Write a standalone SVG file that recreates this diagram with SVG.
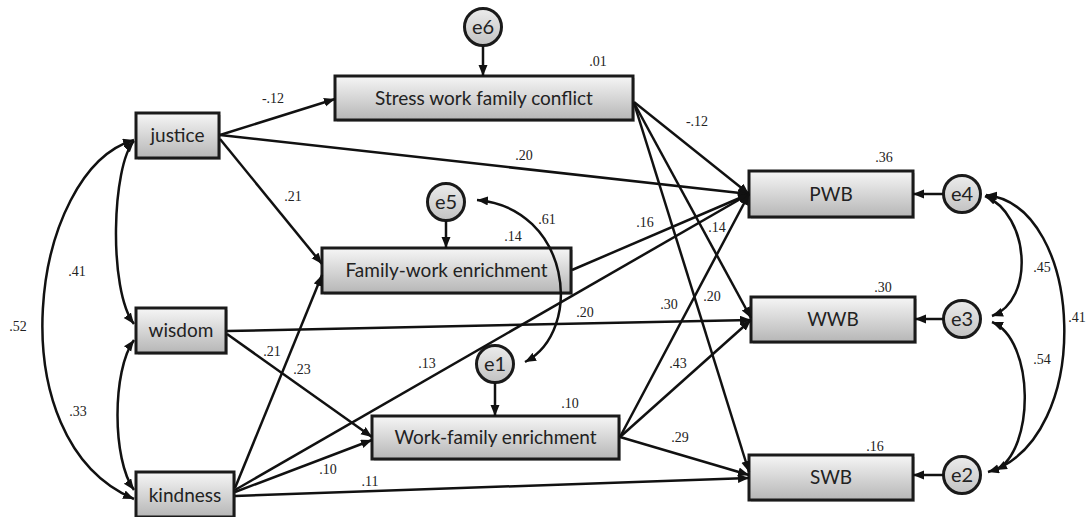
<svg xmlns="http://www.w3.org/2000/svg" width="1086" height="517" viewBox="0 0 1086 517">
<defs>
<linearGradient id="gBox" x1="0" y1="0" x2="0" y2="1">
<stop offset="0" stop-color="#f6f6f6"/>
<stop offset="1" stop-color="#b6b6b6"/>
</linearGradient>
<linearGradient id="gCirc" x1="0" y1="0" x2="0" y2="1">
<stop offset="0" stop-color="#ececec"/>
<stop offset="1" stop-color="#c2c2c2"/>
</linearGradient>
<marker id="ah" markerUnits="userSpaceOnUse" markerWidth="12" markerHeight="10" refX="11" refY="4.5" orient="auto-start-reverse">
<path d="M0,0 L11,4.5 L0,9 z" fill="#111"/>
</marker>
</defs>
<style>
.box{fill:url(#gBox);stroke:#1a1a1a;stroke-width:3}
.shadow{fill:#9a9a9a;opacity:0.45}
.circ{fill:url(#gCirc);stroke:#1a1a1a;stroke-width:3}
.lbl{font-family:Lato,"Open Sans",sans-serif;font-size:19px;fill:#222;text-anchor:middle}
.elbl{font-family:Lato,"Open Sans",sans-serif;font-size:20px;fill:#222;text-anchor:middle}
.num{font-family:"Liberation Serif","Times New Roman",serif;font-size:14px;fill:#222;text-anchor:middle}
.c{fill:none;stroke:#111;stroke-width:2.5}
.a{marker-end:url(#ah)}
.d{marker-start:url(#ah);marker-end:url(#ah)}
</style>
<rect width="1086" height="517" fill="#ffffff"/>

<g id="justice">
<rect class="shadow" x="138" y="115" width="83" height="45"/>
<rect class="box" x="136" y="113" width="83" height="45"/>
<text class="lbl" x="177.5" y="142">justice</text>
</g>
<g id="wisdom">
<rect class="shadow" x="138" y="310" width="90" height="45"/>
<rect class="box" x="136" y="308" width="90" height="45"/>
<text class="lbl" x="181" y="337">wisdom</text>
</g>
<g id="kindness">
<rect class="shadow" x="138" y="474" width="98" height="45"/>
<rect class="box" x="136" y="472" width="98" height="45"/>
<text class="lbl" x="185" y="502">kindness</text>
</g>
<g id="stress">
<rect class="shadow" x="337" y="78" width="298" height="44"/>
<rect class="box" x="335" y="76" width="298" height="44"/>
<text class="lbl" x="484" y="105">Stress work family conflict</text>
</g>
<g id="fwe">
<rect class="shadow" x="324" y="250" width="249" height="45"/>
<rect class="box" x="322" y="248" width="249" height="45"/>
<text class="lbl" x="446.5" y="277">Family-work enrichment</text>
</g>
<g id="wfe">
<rect class="shadow" x="374" y="418" width="247" height="43"/>
<rect class="box" x="372" y="416" width="247" height="43"/>
<text class="lbl" x="495.5" y="444">Work-family enrichment</text>
</g>
<g id="pwb">
<rect class="shadow" x="751" y="173" width="164" height="46"/>
<rect class="box" x="749" y="171" width="164" height="46"/>
<text class="lbl" x="831" y="201">PWB</text>
</g>
<g id="wwb">
<rect class="shadow" x="753" y="299" width="164" height="45"/>
<rect class="box" x="751" y="297" width="164" height="45"/>
<text class="lbl" x="833" y="326">WWB</text>
</g>
<g id="swb">
<rect class="shadow" x="751" y="457" width="164" height="45"/>
<rect class="box" x="749" y="455" width="164" height="45"/>
<text class="lbl" x="831" y="484">SWB</text>
</g>

<g id="e6"><circle class="circ" cx="483" cy="27" r="18.5"/><text class="elbl" x="483" y="34">e6</text></g>
<g id="e5"><circle class="circ" cx="446" cy="202" r="18.5"/><text class="elbl" x="446" y="209">e5</text></g>
<g id="e1"><circle class="circ" cx="495" cy="364" r="18.5"/><text class="elbl" x="495" y="371">e1</text></g>
<g id="e4"><circle class="circ" cx="962" cy="194" r="18.5"/><text class="elbl" x="962" y="201">e4</text></g>
<g id="e3"><circle class="circ" cx="962" cy="319" r="18.5"/><text class="elbl" x="962" y="326">e3</text></g>
<g id="e2"><circle class="circ" cx="962" cy="475" r="18.5"/><text class="elbl" x="962" y="482">e2</text></g>

<g id="connectors">
<path class="c a" d="M220,135 L335,99"/>
<path class="c a" d="M220,135 L749,194"/>
<path class="c a" d="M220,139 L322,264"/>
<path class="c a" d="M634,102 L749,194"/>
<path class="c a" d="M634,103 L751,318"/>
<path class="c a" d="M634,103 L749,472"/>
<path class="c a" d="M572,270 L749,194"/>
<path class="c a" d="M235,490 L749,194"/>
<path class="c a" d="M620,437 L749,194"/>
<path class="c a" d="M620,437 L751,320"/>
<path class="c a" d="M620,437 L749,475"/>
<path class="c a" d="M227,331 L751,320"/>
<path class="c a" d="M227,334 L372,437"/>
<path class="c a" d="M235,488 L322,275"/>
<path class="c a" d="M235,492 L372,440"/>
<path class="c a" d="M235,496 L749,478"/>
<path class="c a" d="M483,46 L483,76"/>
<path class="c a" d="M446,221 L446,248"/>
<path class="c a" d="M495,383 L495,416"/>
<path class="c a" d="M943,194 L913,194"/>
<path class="c a" d="M944,319 L915,319"/>
<path class="c a" d="M944,475 L913,475"/>
<path class="c d" d="M134,141 C112,165 108,290 134,324"/>
<path class="c d" d="M134,140 C30,170 -5,440 134,499"/>
<path class="c d" d="M134,340 C112,370 112,460 134,490"/>
<path class="c d" d="M477,200 C570,208 585,330 525,362"/>
<path class="c d" d="M985,196 C1030,215 1035,300 992,316"/>
<path class="c d" d="M986,195 C1085,205 1095,440 988,472"/>
<path class="c d" d="M992,322 C1035,340 1035,450 996,470"/>
</g>

<g id="labels">
<text class="num" x="273" y="103">-.12</text>
<text class="num" x="293" y="201">.21</text>
<text class="num" x="77" y="276">.41</text>
<text class="num" x="18" y="331">.52</text>
<text class="num" x="78" y="416">.33</text>
<text class="num" x="272" y="356">.21</text>
<text class="num" x="302" y="374">.23</text>
<text class="num" x="328" y="474">.10</text>
<text class="num" x="370" y="486">.11</text>
<text class="num" x="598" y="66">.01</text>
<text class="num" x="524" y="160">.20</text>
<text class="num" x="547" y="224">.61</text>
<text class="num" x="513" y="241">.14</text>
<text class="num" x="645" y="227">.16</text>
<text class="num" x="697" y="126">-.12</text>
<text class="num" x="717" y="232">.14</text>
<text class="num" x="712" y="301">.20</text>
<text class="num" x="669" y="309">.30</text>
<text class="num" x="585" y="317">.20</text>
<text class="num" x="427" y="368">.13</text>
<text class="num" x="570" y="408">.10</text>
<text class="num" x="678" y="368">.43</text>
<text class="num" x="680" y="442">.29</text>
<text class="num" x="884" y="162">.36</text>
<text class="num" x="883" y="292">.30</text>
<text class="num" x="1042" y="272">.45</text>
<text class="num" x="1077" y="322">.41</text>
<text class="num" x="1042" y="364">.54</text>
<text class="num" x="875" y="451">.16</text>
</g>
</svg>
